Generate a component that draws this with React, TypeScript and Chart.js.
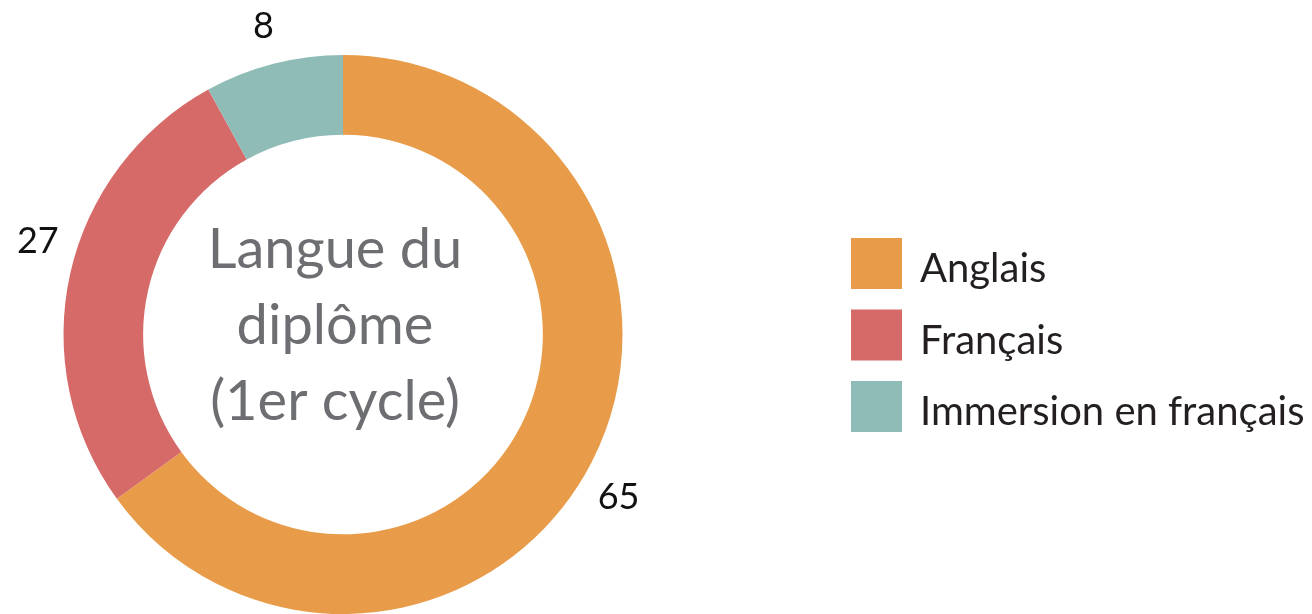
import React, { useEffect, useRef } from "react";
import { Chart, registerables } from "chart.js";

Chart.register(...registerables);

const categories = ["Anglais", "Français", "Immersion en français"];
const values = [65, 27, 8];
const colors = ["#E89C4A", "#D66A69", "#90BCB8"];
const centerLines = ["Langue du", "diplôme", "(1er cycle)"];
const labelNudgeDeg = [3.4, 4.6, 0];

const FONT = "Lato, 'Open Sans', sans-serif";

export default function App() {
  const ref = useRef<HTMLCanvasElement | null>(null);

  useEffect(() => {
    const canvas = ref.current;
    if (!canvas) return;

    const decorPlugin = {
      id: "decor",
      afterDatasetsDraw(chart: any) {
        const meta = chart.getDatasetMeta(0);
        const c = chart.ctx as CanvasRenderingContext2D;
        c.save();
        // outside value labels
        c.font = `36px ${FONT}`;
        c.fillStyle = "#111111";
        c.textAlign = "center";
        c.textBaseline = "alphabetic";
        let cx = 0;
        let cy = 0;
        meta.data.forEach((arc: any, i: number) => {
          const p = arc.getProps(["x", "y", "startAngle", "endAngle", "outerRadius"], true);
          cx = p.x;
          cy = p.y;
          const a = (p.startAngle + p.endAngle) / 2 + (labelNudgeDeg[i] * Math.PI) / 180;
          const r = p.outerRadius + 40;
          const lx = p.x + Math.cos(a) * r;
          const ly = p.y + Math.sin(a) * r;
          c.fillText(String(values[i]), lx, ly + 13);
        });
        // center title
        c.font = `56px ${FONT}`;
        c.fillStyle = "#6D6E71";
        c.textAlign = "center";
        const offs = [-66.5, 9.5, 85.5];
        centerLines.forEach((t, i) => {
          c.fillText(t, cx - 8, cy + offs[i]);
        });
        // legend
        const lx0 = 851;
        const ly0 = 238;
        const step = 71.5;
        const box = 51;
        c.textAlign = "left";
        c.font = `40px ${FONT}`;
        categories.forEach((t, i) => {
          const top = ly0 + i * step;
          c.fillStyle = colors[i];
          c.fillRect(lx0, top, box, box);
          c.fillStyle = "#231F20";
          c.fillText(t, 920, top + 44);
        });
        c.restore();
      },
    };

    const chart = new Chart(canvas, {
      type: "doughnut",
      data: {
        labels: categories,
        datasets: [
          {
            data: values,
            backgroundColor: colors,
            borderWidth: 0,
          },
        ],
      },
      options: {
        animation: false,
        responsive: true,
        maintainAspectRatio: false,
        cutout: "71.5%",
        layout: { padding: { left: 63, right: 689, top: 55, bottom: 0 } },
        plugins: {
          legend: { display: false },
          tooltip: { enabled: false },
        },
      },
      plugins: [decorPlugin],
    });

    return () => chart.destroy();
  }, []);

  return (
    <div
      style={{
        position: "fixed",
        left: 0,
        top: 0,
        width: 1312,
        height: 614,
        background: "#ffffff",
      }}
    >
      <canvas ref={ref} />
    </div>
  );
}
